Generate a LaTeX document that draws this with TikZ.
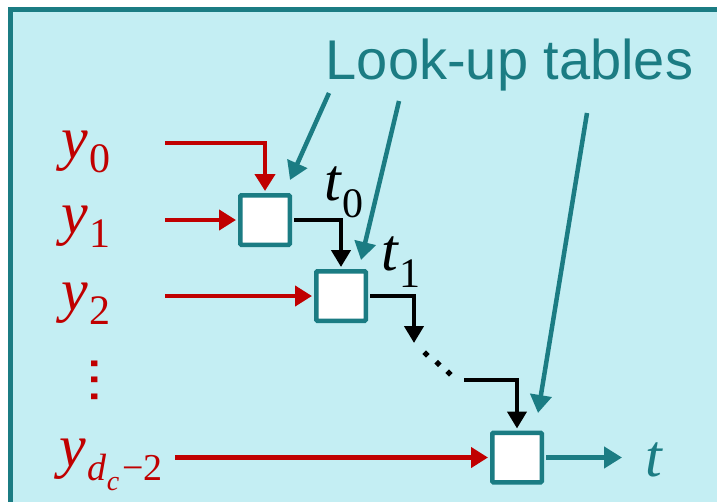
\documentclass[tikz,border=0pt]{standalone}
\usepackage{fontspec}
\setmainfont{Liberation Serif}
\newfontfamily\arialfont{Liberation Sans}
\usetikzlibrary{arrows.meta}
\definecolor{panel}{RGB}{196,238,243}
\definecolor{tealc}{RGB}{27,124,131}
\definecolor{redc}{RGB}{192,0,0}
% large italic symbol and a lowered upright index
\newcommand{\bigsym}[1]{{\fontsize{60}{60}\selectfont\itshape #1}}
\newcommand{\lowidx}[2][14pt]{\kern2pt\raisebox{-#1}{\fontsize{42}{42}\selectfont #2}}
\begin{document}
\begin{tikzpicture}[x=1pt,y=-1pt,
  lut/.style={draw=tealc, fill=white, line width=4.5pt, minimum size=49.5pt,
    inner sep=0pt, rounded corners=1pt},
  redarrow/.style={draw=redc, line width=4.2pt, -{Triangle[length=17pt,width=20pt]}},
  blackarrow/.style={draw=black, line width=4.2pt, -{Triangle[length=17pt,width=19pt]}},
  tealarrow/.style={draw=tealc, line width=4.5pt, -{Triangle[length=18pt,width=21pt]}},
  sym/.style={inner sep=0pt, anchor=base west},
  dotrow/.style={inner sep=0pt, font=\arialfont\fontsize{60}{60}\selectfont},
  dotmark/.style={fill=black, rotate=45, minimum size=5pt, inner sep=0pt}]
\useasboundingbox (0,0) rectangle (717,501);
\clip (0,0) rectangle (717,501);
\fill[white] (0,0) rectangle (717,501);
% panel
\draw[tealc, line width=4.5pt, fill=panel] (10.3,9.5) rectangle (740,530);

% look-up table boxes
\node[lut] (b1) at (265,220) {};
\node[lut] (b2) at (341,296) {};
\node[lut] (b3) at (517,457.5) {};

% inputs
\node[sym, text=redc] (y0) at (61,158) {\bigsym{y}\lowidx{0}};
\node[sym, text=redc] (y1) at (61,233) {\bigsym{y}\lowidx{1}};
\node[sym, text=redc] (y2) at (61,310) {\bigsym{y}\lowidx{2}};
\node[dotrow, text=redc, rotate=-90] (vd) at (94.5,380) {...};
\node[sym, text=redc] (yd) at (59,466)
  {\bigsym{y}\kern2pt\raisebox{-14pt}{\fontsize{38}{38}\selectfont\itshape d\raisebox{-10pt}{\fontsize{28}{28}\selectfont c}\upshape\kern3pt−2}};

\coordinate (s0) at (165,143);
\coordinate (s1) at (165,220);
\coordinate (s2) at (165,296);
\coordinate (s3) at (175,457.5);
\draw[redarrow, shorten >=2pt] (s0) -| (b1.north);
\draw[redarrow, shorten >=2pt] (s1) -- (b1.west);
\draw[redarrow, shorten >=2pt] (s2) -- (b2.west);
\draw[redarrow, shorten >=2pt] (s3) -- (b3.west);

% chain of partial results
\node[sym] (t0) at (324,200) {\bigsym{t}\lowidx[17pt]{0}};
\node[sym] (t1) at (381,270) {\bigsym{t}\lowidx[17pt]{1}};
\coordinate (c1) at (414,343);
\coordinate (c2) at (464,380);
\draw[blackarrow, shorten <=2pt, shorten >=2pt] (b1.east) -| (b2.north);
\draw[blackarrow, shorten <=2pt] (b2.east) -| (c1);
\node[dotmark] (d1) at (426,354) {};
\node[dotmark] (d2) at (438,363.5) {};
\node[dotmark] (d3) at (449,373) {};
\draw[blackarrow, shorten >=2pt] (c2) -| (b3.north);

% output
\coordinate (c3) at (622,457.5);
\draw[tealarrow, shorten <=2pt] (b3.east) -- (c3);
\node[sym, text=tealc] (tout) at (645,476) {\bigsym{t}};

% caption with pointers
\node[anchor=base, inner sep=0pt, text=tealc, font=\arialfont\fontsize{56}{56}\selectfont]
  (cap) at (509.5,79) {Look-up tables};
\coordinate (p1s) at (329,93);
\coordinate (p1e) at (290,180);
\coordinate (p2s) at (399,101);
\coordinate (p2e) at (361,260);
\coordinate (p3s) at (587,113);
\coordinate (p3e) at (538,413);
\draw[tealarrow] (p1s) -- (p1e);
\draw[tealarrow] (p2s) -- (p2e);
\draw[tealarrow] (p3s) -- (p3e);
\end{tikzpicture}
\end{document}
